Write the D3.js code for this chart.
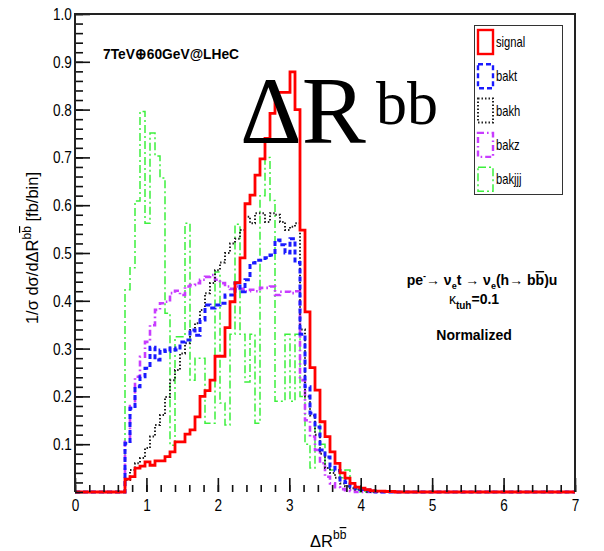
<!DOCTYPE html>
<html>
  <head>
    <meta charset="UTF-8" />
    <style>
      body { margin: 0; background: #fff; }
      svg { display: block; font-family: "Liberation Sans", Arial, sans-serif; }
    </style>
  </head>
  <body>
    <svg></svg>
    <script src="https://d3js.org/d3.v7.min.js"></script>
    <script>
      let width = 604,
        height = 551;
      let margin = { left: 75, right: 29, top: 14, bottom: 59 };

      // 100 bins of 0.07 on [0,7]; values listed from bin 10 (dR = 0.7), rest are 0
      const nBins = 100, binWidth = 0.07, firstBin = 10;

      const signal = [0.027, 0.032, 0.05, 0.054, 0.063, 0.056, 0.065, 0.065, 0.074, 0.084,
        0.105, 0.105, 0.121, 0.13, 0.157, 0.2, 0.212, 0.234, 0.284, 0.284,
        0.344, 0.398, 0.438, 0.49, 0.603, 0.621, 0.663, 0.697, 0.74, 0.792,
        0.836, 0.836, 0.836, 0.879, 0.8, 0.548, 0.377, 0.26, 0.213, 0.147,
        0.116, 0.084, 0.06, 0.04, 0.029, 0.018, 0.01, 0.008, 0.005, 0.003,
        0.002, 0.002, 0.001, 0.001];
      const bakt = [0.102, 0.175, 0.22, 0.241, 0.259, 0.303, 0.276, 0.297, 0.294, 0.301,
        0.297, 0.314, 0.318, 0.339, 0.328, 0.36, 0.391, 0.385, 0.391, 0.395,
        0.412, 0.412, 0.437, 0.419, 0.444, 0.479, 0.485, 0.485, 0.49, 0.496,
        0.527, 0.517, 0.5, 0.53, 0.48, 0.33, 0.22, 0.165, 0.136, 0.088,
        0.073, 0.052, 0.045, 0.025, 0.02, 0.012, 0.008, 0.005, 0.004, 0.002];
      const bakh = [0.025, 0.046, 0.06, 0.071, 0.092, 0.116, 0.14, 0.161, 0.199, 0.234,
        0.255, 0.29, 0.311, 0.339, 0.353, 0.381, 0.416, 0.437, 0.464, 0.48,
        0.5, 0.52, 0.53, 0.548, 0.576, 0.562, 0.583, 0.583, 0.565, 0.583,
        0.58, 0.565, 0.548, 0.555, 0.562, 0.34, 0.2, 0.16, 0.12, 0.08,
        0.05, 0.04, 0.03, 0.018, 0.012, 0.008, 0.005, 0.003];
      const bakz = [0.105, 0.18, 0.241, 0.283, 0.314, 0.349, 0.381, 0.395, 0.398, 0.416,
        0.421, 0.412, 0.43, 0.433, 0.437, 0.444, 0.45, 0.454, 0.444, 0.437,
        0.43, 0.425, 0.43, 0.425, 0.42, 0.423, 0.42, 0.427, 0.427, 0.43,
        0.412, 0.419, 0.419, 0.416, 0.42, 0.234, 0.15, 0.116, 0.088, 0.06,
        0.032, 0.018, 0.01, 0.006, 0.004, 0.002];
      const bakjjj = [0.423, 0.469, 0.609, 0.796, 0.562, 0.751, 0.703, 0.657, 0.374, 0.098,
        0.325, 0.325, 0.562, 0.234, 0.28, 0.28, 0.144, 0.144, 0.46, 0.186,
        0.14, 0.33, 0.56, 0.33, 0.23, 0.33, 0.144, 0.62, 0.7, 0.61,
        0.19, 0.19, 0.33, 0.19, 0.33, 0.2, 0.1, 0.05, 0.14, 0.1,
        0.05, 0.046, 0.046, 0.03, 0.046, 0.01, 0.005];

      const seriesNames = ["signal", "bakt", "bakh", "bakz", "bakjjj"];
      const xTicks = [0, 1, 2, 3, 4, 5, 6, 7];
      const yTicks = [0.1, 0.2, 0.3, 0.4, 0.5, 0.6, 0.7, 0.8, 0.9, 1.0];

      let styles = {
        signal: { color: "#ff0000", w: 2.8, dash: null },
        bakt: { color: "#1a1aff", w: 3, dash: "5,3" },
        bakh: { color: "#222", w: 2, dash: "1.5,2" },
        bakz: { color: "#c83cff", w: 2.6, dash: "6,3,1.6,3" },
        bakjjj: { color: "#3cf03c", w: 1.5, dash: "8,3,2,3" },
      };
      let values = { signal, bakt, bakh, bakz, bakjjj };

      let svg = d3.select("svg").attr("width", width).attr("height", height);

      let x = d3.scaleLinear().domain([0, 7]).range([margin.left, width - margin.right]);
      let y = d3.scaleLinear().domain([0, 1]).range([height - margin.bottom, margin.top]);

      function fullBins(arr) {
        let out = [];
        for (let i = 0; i < nBins; i++) {
          let j = i - firstBin;
          out.push(j >= 0 && j < arr.length ? arr[j] : 0);
        }
        return out;
      }

      let line = d3.line()
        .x((d) => x(d[0]))
        .y((d) => y(d[1]))
        .curve(d3.curveStepAfter);

      // draw backgrounds first, signal last (on top)
      ["bakjjj", "bakz", "bakh", "bakt", "signal"].forEach((name) => {
        let b = fullBins(values[name]);
        let pts = b.map((v, i) => [i * binWidth, v]);
        pts.push([7, b[nBins - 1]]);
        let st = styles[name];
        svg.append("path")
          .attr("d", line(pts))
          .attr("fill", "none")
          .attr("stroke", st.color)
          .attr("stroke-width", st.w)
          .attr("stroke-dasharray", st.dash);
      });

      // ticks (ROOT style: inside the frame)
      let yMinor = d3.range(0, 1.0001, 0.02);
      let xMinor = d3.range(0, 7.0001, 0.2);

      svg.append("g")
        .attr("transform", `translate(${margin.left},0)`)
        .call(d3.axisLeft(y).tickValues(yMinor).tickSize(-8).tickFormat(""))
        .call((g) => g.select(".domain").remove());
      svg.append("g")
        .attr("transform", `translate(${margin.left},0)`)
        .call(d3.axisLeft(y).tickValues(yTicks).tickSize(-15).tickPadding(4).tickFormat(d3.format(".1f")))
        .call((g) => g.select(".domain").remove())
        .call((g) => g.selectAll("text").attr("font-size", 17).attr("transform", "scale(0.8,1)"));

      svg.append("g")
        .attr("transform", `translate(0,${height - margin.bottom})`)
        .call(d3.axisBottom(x).tickValues(xMinor).tickSize(-7).tickFormat(""))
        .call((g) => g.select(".domain").remove());
      svg.append("g")
        .attr("transform", `translate(0,${height - margin.bottom})`)
        .call(d3.axisBottom(x).tickValues(xTicks).tickSize(-14).tickPadding(7).tickFormat(d3.format("d")))
        .call((g) => g.select(".domain").remove())
        .call((g) => g.selectAll("text").attr("font-size", 17).attr("transform", "scale(0.8,1)"));

      svg.selectAll(".tick line").attr("stroke", "#111").attr("stroke-width", 1.6);

      // frame (bottom edge stays under the red signal baseline)
      svg.append("path")
        .attr("d", `M${x(0)},${y(0)}V${y(1)}H${x(7)}V${y(0)}`)
        .attr("fill", "none")
        .attr("stroke", "#222")
        .attr("stroke-width", 2);

      // axis titles
      let yt = svg.append("text")
        .attr("transform", `translate(38,172) rotate(-90)`)
        .attr("text-anchor", "end")
        .attr("font-size", 16.5);
      yt.append("tspan").text("1/σ dσ/dΔR");
      yt.append("tspan").attr("font-size", 12).attr("dy", -7).text("b");
      yt.append("tspan").attr("font-size", 12).style("text-decoration", "overline").text("b");
      yt.append("tspan").attr("dy", 7).text(" [fb/bin]");

      let xt = svg.append("text")
        .attr("x", 310)
        .attr("y", 547)
        .attr("font-size", 16.5);
      xt.append("tspan").text("ΔR");
      xt.append("tspan").attr("font-size", 12).attr("dy", -8).text("b");
      xt.append("tspan").attr("font-size", 12).style("text-decoration", "overline").text("b");

      // labels inside the frame
      svg.append("text")
        .attr("x", 103).attr("y", 59)
        .attr("font-size", 15).attr("font-weight", "bold")
        .attr("textLength", 136).attr("lengthAdjust", "spacingAndGlyphs")
        .text("7TeV⊕60GeV@LHeC");

      let r1 = svg.append("text")
        .attr("x", 482).attr("y", 285)
        .attr("text-anchor", "middle")
        .attr("font-size", 14).attr("font-weight", "bold");
      r1.append("tspan").text("pe");
      r1.append("tspan").attr("font-size", 9).attr("dy", -6).text("-");
      r1.append("tspan").attr("dy", 6).text("→ ν");
      r1.append("tspan").attr("font-size", 9).attr("dy", 4).text("e");
      r1.append("tspan").attr("dy", -4).text("t → ν");
      r1.append("tspan").attr("font-size", 9).attr("dy", 4).text("e");
      r1.append("tspan").attr("dy", -4).text("(h→ b");
      r1.append("tspan").style("text-decoration", "overline").text("b");
      r1.append("tspan").text(")u");

      let r2 = svg.append("text")
        .attr("x", 474).attr("y", 304)
        .attr("text-anchor", "middle")
        .attr("font-size", 14).attr("font-weight", "bold");
      r2.append("tspan").attr("font-weight", "normal").text("κ");
      r2.append("tspan").attr("font-size", 10).attr("dy", 5).text("tuh");
      r2.append("tspan").attr("dy", -5).text("=0.1");

      svg.append("text")
        .attr("x", 474).attr("y", 340)
        .attr("text-anchor", "middle")
        .attr("font-size", 14).attr("font-weight", "bold")
        .text("Normalized");

      // big pasted title
      let big = svg.append("g").attr("font-family", "Liberation Serif, Times New Roman, serif");
      big.append("text").attr("x", 240).attr("y", 143).attr("font-size", 96).text("ΔR");
      big.append("text").attr("x", 376).attr("y", 124).attr("font-size", 62).text("bb");

      // legend
      let lg = svg.append("g");
      lg.append("rect")
        .attr("x", 474.5).attr("y", 25.5).attr("width", 88).attr("height", 169)
        .attr("fill", "#fff").attr("stroke", "#333").attr("stroke-width", 1);
      seriesNames.forEach((name, i) => {
        let cy = 42 + i * 34.3;
        let st = styles[name];
        lg.append("rect")
          .attr("x", 478).attr("y", cy - 12).attr("width", 15).attr("height", 24)
          .attr("fill", "none")
          .attr("stroke", st.color)
          .attr("stroke-width", Math.min(st.w, 2.4))
          .attr("stroke-dasharray", st.dash);
        lg.append("text")
          .attr("transform", `translate(496,${cy + 5}) scale(0.8,1)`)
          .attr("font-size", 14)
          .text(name);
      });
    </script>
  </body>
</html>
